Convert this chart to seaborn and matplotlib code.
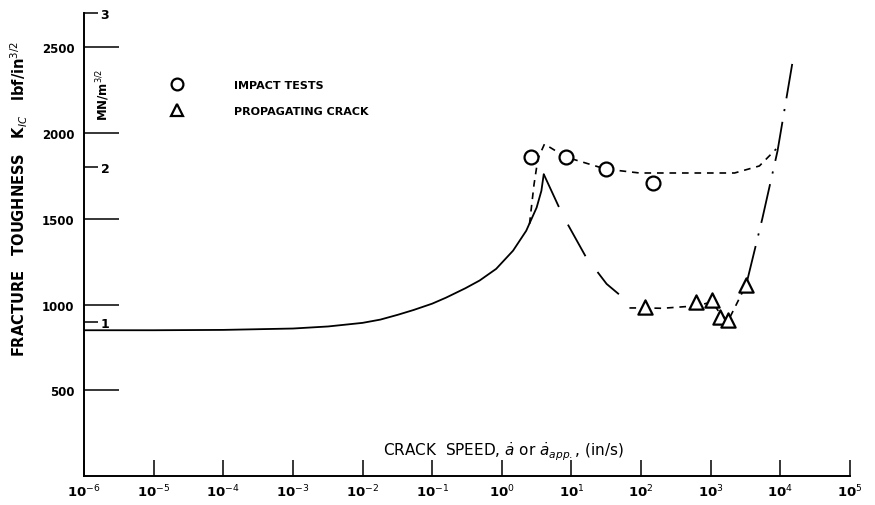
import numpy as np
import pandas as pd
import matplotlib
matplotlib.use("Agg")
import matplotlib.pyplot as plt
import seaborn as sns
from matplotlib.lines import Line2D

sns.set_style("ticks")
plt.rcParams['font.family'] = ['DejaVu Sans']
plt.rcParams['text.color'] = 'black'
plt.rcParams['axes.labelcolor'] = 'black'
plt.rcParams['xtick.color'] = 'black'
plt.rcParams['ytick.color'] = 'black'

# ---------------- data ----------------
# solid curve: fracture toughness vs crack speed (quasi-static branch)
solid_speed = [1e-6, 1e-5, 1e-4, 1e-3, 3.2e-3, 1e-2, 1.8e-2, 3.2e-2, 5.4e-2, 0.1, 0.158, 0.3,
               0.48, 0.83, 1.45, 2.24, 3.16, 3.7, 4.0]
solid_K = [850, 850, 852, 860, 872, 893, 912, 940, 968, 1005, 1040, 1095,
           1140, 1208, 1314, 1430, 1565, 1663, 1760]

# long-dash branch falling from peak
fall_speed = [4.0, 7.5, 16.0, 32.0, 48.0]
fall_K = [1760, 1520, 1280, 1120, 1060]

# short-dash curve through impact tests
impact_curve_speed = [2.5, 2.9, 3.3, 4.1, 8.3, 31.0, 95.0, 600.0, 2200.0, 5000.0, 8700.0]
impact_curve_K = [1470, 1700, 1850, 1936, 1860, 1790, 1767, 1767, 1767, 1808, 1907]

# short-dash curve through propagating crack data
prop_curve_speed = [68.0, 115.0, 200.0, 617.0, 1047.0, 1380.0, 1780.0, 3236.0]
prop_curve_K = [980, 980, 978, 992, 1015, 945, 905, 1116]

# dash-dot rising branch
rise_speed = [3236.0, 5500.0, 9100.0, 14800.0]
rise_K = [1116, 1500, 1895, 2403]

# measured points
impact_speed = [2.6, 8.4, 31.0, 150.0]
impact_K = [1860, 1860, 1790, 1710]
prop_speed = [115.0, 617.0, 1047.0, 1380.0, 1780.0, 3236.0]
prop_K = [984, 1013, 1027, 930, 907, 1116]

y_ticks = [500, 1000, 1500, 2000, 2500]
mn_ticks = [1, 2, 3]
x_ticks = [1e-6, 1e-5, 1e-4, 1e-3, 1e-2, 1e-1, 1e0, 1e1, 1e2, 1e3, 1e4, 1e5]
x_ticklabels = ['10$^{-6}$', '10$^{-5}$', '10$^{-4}$', '10$^{-3}$', '10$^{-2}$', '10$^{-1}$',
                '10$^{0}$', '10$^{1}$', '10$^{2}$', '10$^{3}$', '10$^{4}$', '10$^{5}$']
LBF_PER_MN = 900.0

# ---------------- figure ----------------
fig = plt.figure(figsize=(8.75, 5.06), dpi=100)
ax = fig.add_axes([84 / 875, 29 / 506, 766 / 875, 463 / 506])
ax.set_xscale('log')

lw = 1.3
sns.lineplot(x=solid_speed, y=solid_K, ax=ax, color='black', lw=lw, sort=False, estimator=None)
sns.lineplot(x=fall_speed, y=fall_K, ax=ax, color='black', lw=lw, sort=False, estimator=None,
             linestyle=(0, (20, 11)))
sns.lineplot(x=impact_curve_speed, y=impact_curve_K, ax=ax, color='black', lw=1.2, sort=False,
             estimator=None, linestyle=(0, (4, 3.5)))
sns.lineplot(x=prop_curve_speed, y=prop_curve_K, ax=ax, color='black', lw=1.2, sort=False,
             estimator=None, linestyle=(0, (4, 3.5)))
sns.lineplot(x=rise_speed, y=rise_K, ax=ax, color='black', lw=lw, sort=False, estimator=None,
             linestyle=(0, (22, 6, 1.2, 6)))

sns.scatterplot(x=impact_speed, y=impact_K, ax=ax, marker='o', s=100, facecolors='white',
                edgecolor='black', linewidth=1.6, zorder=5)
sns.scatterplot(x=prop_speed, y=prop_K, ax=ax, marker='^', s=105, facecolors='white',
                edgecolor='black', linewidth=1.6, zorder=5)

ax.set_xlim(1e-6, 1e5)
ax.set_ylim(0, 2700)

for s in ['top', 'right']:
    ax.spines[s].set_visible(False)
for s in ['left', 'bottom']:
    ax.spines[s].set_linewidth(1.4)
    ax.spines[s].set_color('black')

ax.set_xticks(x_ticks)
ax.set_xticklabels(x_ticklabels, fontsize=9.5, fontweight='bold')
ax.xaxis.set_minor_locator(matplotlib.ticker.NullLocator())
ax.tick_params(axis='x', direction='in', length=11.5, width=1.1, pad=5, colors='black')

ax.set_yticks(y_ticks)
ax.set_yticklabels([str(v) for v in y_ticks], fontsize=8.5, fontweight='bold')
ax.tick_params(axis='y', direction='in', length=25, width=1.1, pad=7, colors='black')

# secondary scale MN/m^3/2 drawn on the same spine
sec = ax.secondary_yaxis(0, functions=(lambda k: k / LBF_PER_MN, lambda m: m * LBF_PER_MN))
sec.set_yticks(mn_ticks)
sec.set_yticklabels([str(v) for v in mn_ticks], fontsize=9, fontweight='bold')
sec.yaxis.set_ticks_position('right')
sec.yaxis.set_minor_locator(matplotlib.ticker.NullLocator())
sec.tick_params(axis='y', direction='out', length=10, width=1.1, pad=2, colors='black')
for s in sec.spines.values():
    s.set_visible(False)

ax.text((103 - 84) / 766, 2229, 'MN/m$^{3/2}$', transform=ax.get_yaxis_transform(), rotation=90,
        ha='center', va='center', fontsize=8.5, fontweight='bold')

ax.set_ylabel('FRACTURE   TOUGHNESS   K$_{IC}$   lbf/in$^{3/2}$', fontsize=10.5,
              fontweight='bold', color='black')
ax.yaxis.set_label_coords(-(84 - 30) / 766, (476 - 198) / 463)

ax.text((503 - 84) / 766, (476 - 451) / 463,
        r'CRACK  SPEED, $\dot{a}$ or $\dot{a}_{app.}$, (in/s)',
        transform=ax.transAxes, ha='center', va='center', fontsize=11, color='black')

handles = [
    Line2D([], [], marker='o', linestyle='none', markersize=8.5, markerfacecolor='white',
           markeredgecolor='black', markeredgewidth=1.6),
    Line2D([], [], marker='^', linestyle='none', markersize=9, markerfacecolor='white',
           markeredgecolor='black', markeredgewidth=1.6),
]
leg = ax.legend(handles, ['IMPACT TESTS', 'PROPAGATING CRACK'], frameon=False,
                loc='upper left', bbox_to_anchor=((160 - 84) / 766, (476 - 70) / 463),
                handlelength=1.2, handletextpad=4.6, labelspacing=1.45,
                prop={'size': 8, 'weight': 'bold'}, labelcolor='black')

fig.savefig('out.png', dpi=100, facecolor='white')
